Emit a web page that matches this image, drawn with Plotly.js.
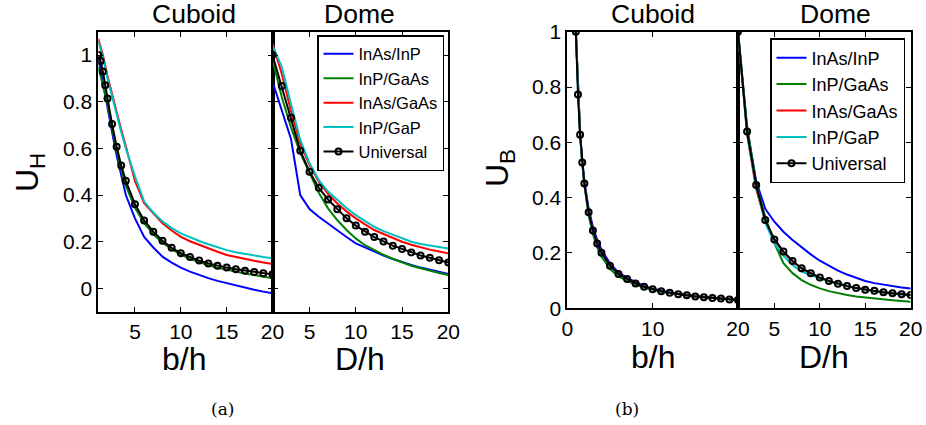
<!DOCTYPE html>
<html>
<head>
<meta charset="utf-8">
<script src="https://cdn.plot.ly/plotly-3.0.1.min.js"></script>
<style>html,body{margin:0;padding:0;background:#fff;}#chart{width:926px;height:425px;}</style>
</head>
<body>
<div id="chart"></div>
<script>
// ---------- data ----------
const seriesNames = ["InAs/InP", "InP/GaAs", "InAs/GaAs", "InP/GaP", "Universal"];

// Panel (a) Cuboid
const xCubA = [1,1.5,2,2.5,3,3.5,4,5,6,7,8,9,10,11,12,13,14,15,16,17,18,19,20];
const cubA_InAsInP  = [0.99,0.88,0.77,0.67,0.57,0.48,0.40,0.30,0.22,0.175,0.136,0.11,0.089,0.072,0.057,0.044,0.032,0.022,0.012,0.004,-0.006,-0.014,-0.021];
const cubA_InPGaAs  = [0.95,0.87,0.79,0.69,0.59,0.51,0.44,0.345,0.28,0.232,0.196,0.168,0.145,0.127,0.112,0.099,0.088,0.079,0.071,0.064,0.057,0.05,0.043];
const cubA_InAsGaAs = [1.07,1.0,0.91,0.83,0.75,0.68,0.61,0.46,0.365,0.32,0.279,0.248,0.221,0.202,0.186,0.172,0.157,0.143,0.134,0.126,0.118,0.111,0.104];
const cubA_InPGaP   = [1.06,0.99,0.90,0.82,0.74,0.67,0.60,0.48,0.372,0.325,0.287,0.258,0.236,0.218,0.203,0.189,0.176,0.164,0.155,0.147,0.140,0.134,0.129];
const xUnivCubA = [1,1.25,1.5,1.75,2,2.5,3,3.5,4,5,6,7,8,9,10,11,12,13,14,15,16,17,18,19,20];
const cubA_Univ = [1.0,0.974,0.929,0.871,0.814,0.704,0.607,0.527,0.461,0.361,0.291,0.243,0.204,0.174,0.151,0.134,0.119,0.107,0.097,0.089,0.082,0.076,0.070,0.065,0.060];

// Panel (a) Dome
const xDomA = [1,2,3,4,5,6,7,8,9,10,11,12,13,14,15,16,17,18,19,20];
const domA_InAsInP  = [0.886,0.76,0.64,0.40,0.34,0.307,0.277,0.25,0.22,0.193,0.175,0.157,0.141,0.126,0.112,0.1,0.089,0.079,0.07,0.062];
const domA_InPGaAs  = [0.98,0.82,0.69,0.58,0.495,0.41,0.343,0.293,0.25,0.214,0.185,0.163,0.144,0.127,0.111,0.097,0.086,0.075,0.066,0.057];
const domA_InAsGaAs = [1.05,0.92,0.76,0.62,0.53,0.457,0.405,0.364,0.33,0.30,0.274,0.25,0.233,0.216,0.2,0.187,0.176,0.166,0.158,0.15];
const domA_InPGaP   = [1.04,0.95,0.79,0.636,0.536,0.464,0.415,0.379,0.344,0.314,0.288,0.264,0.245,0.229,0.214,0.2,0.19,0.183,0.177,0.171];
const domA_Univ     = [1.0,0.867,0.731,0.59,0.50,0.431,0.381,0.339,0.30,0.269,0.243,0.22,0.201,0.183,0.169,0.154,0.141,0.131,0.121,0.111];

// Panel (b) Cuboid
const xCubB = [1,1.25,1.5,1.75,2,2.5,3,3.5,4,5,6,7,8,9,10,11,12,13,14,15,16,17,18,19,20];
const cubB_InAsInP  = [1.0,0.78,0.635,0.535,0.46,0.36,0.295,0.248,0.213,0.162,0.13,0.11,0.094,0.081,0.071,0.064,0.058,0.053,0.048,0.045,0.041,0.038,0.036,0.033,0.031];
const cubB_InPGaAs  = [1.0,0.78,0.63,0.525,0.445,0.335,0.268,0.22,0.187,0.142,0.115,0.099,0.085,0.075,0.067,0.06,0.055,0.05,0.046,0.043,0.04,0.037,0.034,0.032,0.030];
const cubB_InAsGaAs = [1.0,0.775,0.628,0.528,0.452,0.348,0.283,0.236,0.203,0.155,0.125,0.107,0.091,0.079,0.07,0.062,0.056,0.051,0.047,0.044,0.041,0.038,0.035,0.033,0.031];
const cubB_InPGaP   = [1.0,0.774,0.626,0.525,0.449,0.344,0.278,0.231,0.198,0.152,0.123,0.105,0.089,0.078,0.069,0.062,0.056,0.051,0.047,0.043,0.040,0.037,0.035,0.032,0.030];
const cubB_Univ     = [1.0,0.773,0.627,0.527,0.451,0.347,0.281,0.234,0.201,0.154,0.124,0.106,0.09,0.078,0.069,0.062,0.056,0.051,0.047,0.043,0.040,0.037,0.035,0.032,0.030];

// Panel (b) Dome
const xDomB = [1,2,3,4,5,6,7,8,9,10,11,12,13,14,15,16,17,18,19,20];
const domB_InAsInP  = [1.0,0.65,0.46,0.36,0.313,0.277,0.247,0.22,0.195,0.172,0.153,0.136,0.122,0.11,0.099,0.091,0.085,0.079,0.075,0.072];
const domB_InPGaAs  = [1.0,0.66,0.45,0.33,0.235,0.163,0.127,0.102,0.085,0.072,0.062,0.054,0.048,0.043,0.039,0.035,0.032,0.029,0.026,0.024];
const domB_InAsGaAs = [1.0,0.63,0.43,0.315,0.25,0.203,0.17,0.144,0.126,0.11,0.098,0.088,0.08,0.073,0.067,0.062,0.057,0.053,0.05,0.048];
const domB_InPGaP   = [1.0,0.63,0.44,0.31,0.235,0.19,0.157,0.133,0.12,0.108,0.097,0.088,0.08,0.073,0.067,0.062,0.057,0.053,0.05,0.048];
const domB_Univ     = [1.0,0.639,0.446,0.319,0.249,0.205,0.171,0.145,0.127,0.111,0.099,0.089,0.081,0.073,0.067,0.063,0.058,0.054,0.051,0.048];

const panelTitles = ["Cuboid", "Dome", "Cuboid", "Dome"];
const xLabels = ["b/h", "D/h", "b/h", "D/h"];
const yLabels = ["U<sub>H</sub>", "U<sub>B</sub>"];
const captions = ["(a)", "(b)"];
const yTicksA = [0, 0.2, 0.4, 0.6, 0.8, 1];
const yTicksB = [0, 0.2, 0.4, 0.6, 0.8, 1];
const xTicksCubA = [5, 10, 15, 20];
const xTicksDom = [5, 10, 15, 20];
const xTicksCubB = [0, 10, 20];

// ---------- styling ----------
const FONT = "Liberation Sans";
const colors = ["#0000FF", "#008000", "#FF0000", "#00BFBF", "#000000"];
const W = 926, H = 425;
const px = v => v / W;
const py = v => 1 - v / H;

function lineTrace(x, y, i, xa, ya, legendId, show) {
  const t = {
    x: x, y: y, type: "scatter", mode: i === 4 ? "lines+markers" : "lines",
    name: seriesNames[i], xaxis: xa, yaxis: ya,
    line: {color: colors[i], width: 2},
    showlegend: show, legend: legendId
  };
  if (i === 4) t.marker = {symbol: "circle-open", size: 6, color: "#000", line: {width: 2, color: "#000"}};
  return t;
}

const traces = [];
const cubA = [cubA_InAsInP, cubA_InPGaAs, cubA_InAsGaAs, cubA_InPGaP];
const domA = [domA_InAsInP, domA_InPGaAs, domA_InAsGaAs, domA_InPGaP, domA_Univ];
const cubB = [cubB_InAsInP, cubB_InPGaAs, cubB_InAsGaAs, cubB_InPGaP, cubB_Univ];
const domB = [domB_InAsInP, domB_InPGaAs, domB_InAsGaAs, domB_InPGaP, domB_Univ];
for (let i = 0; i < 4; i++) traces.push(lineTrace(xCubA, cubA[i], i, "x", "y", "legend", false));
traces.push(lineTrace(xUnivCubA, cubA_Univ, 4, "x", "y", "legend", false));
for (let i = 0; i < 5; i++) traces.push(lineTrace(xDomA, domA[i], i, "x2", "y2", "legend", true));
for (let i = 0; i < 5; i++) traces.push(lineTrace(xCubB, cubB[i], i, "x3", "y3", "legend2", false));
for (let i = 0; i < 5; i++) traces.push(lineTrace(xDomB, domB[i], i, "x4", "y4", "legend2", true));

const tickFont = {family: FONT, size: 21, color: "#000"};
function axis(domain, range, tickvals, showLabels, anchor) {
  return {
    domain: domain, range: range, anchor: anchor,
    tickmode: "array", tickvals: tickvals, showticklabels: showLabels,
    ticks: "inside", ticklen: 5, tickwidth: 1, tickcolor: "#000",
    showline: true, linecolor: "#000", linewidth: 2, mirror: "ticks",
    showgrid: false, zeroline: false, tickfont: tickFont, fixedrange: true
  };
}

const yDomA = [py(311.7), py(31.7)];
const yDomB = [py(308.3), py(31.7)];

const annFont = (s) => ({family: FONT, size: s, color: "#000"});
const ann = (text, x, y, size, angle, yanchor) => ({
  text: text, x: px(x), y: py(y), xref: "paper", yref: "paper",
  xanchor: "center", yanchor: yanchor || "middle", showarrow: false, font: annFont(size), textangle: angle || 0,
  borderpad: 0
});

const annotations = [
  ann(panelTitles[0], 194, -2, 26.5, 0, "top"), ann(panelTitles[1], 359, -2, 26.5, 0, "top"),
  ann(panelTitles[2], 652.5, -2, 26.5, 0, "top"), ann(panelTitles[3], 835, -2, 26.5, 0, "top"),
  ann(xLabels[0], 184, 359, 32), ann(xLabels[1], 360, 359, 32),
  ann(xLabels[2], 652.5, 357, 32), ann(xLabels[3], 824, 357, 32),
  ann(yLabels[0], 29, 172, 32, -90), ann(yLabels[1], 499, 168, 32, -90),
  {text: captions[0], x: px(222), y: py(409), xref: "paper", yref: "paper", showarrow: false,
   xanchor: "center", yanchor: "middle", font: {family: "DejaVu Serif", size: 17, color: "#000"}},
  {text: captions[1], x: px(627), y: py(409), xref: "paper", yref: "paper", showarrow: false,
   xanchor: "center", yanchor: "middle", font: {family: "DejaVu Serif", size: 17, color: "#000"}}
];

const legendFont = (s) => ({family: FONT, size: s, color: "#000"});
const layout = {
  width: W, height: H, margin: {l: 0, r: 0, t: 0, b: 0},
  paper_bgcolor: "#fff", plot_bgcolor: "#fff",
  font: {family: FONT, color: "#000"},
  xaxis: axis([px(98.3), px(272.5)], [1, 20], xTicksCubA, true, "y"),
  yaxis: axis(yDomA, [-0.1, 1.1], yTicksA, true, "x"),
  xaxis2: axis([px(272.5), px(448.3)], [1, 20], xTicksDom, true, "y2"),
  yaxis2: axis(yDomA, [-0.1, 1.1], yTicksA, false, "x2"),
  xaxis3: axis([px(567.3), px(738)], [0, 20], xTicksCubB, true, "y3"),
  yaxis3: axis(yDomB, [0, 1], yTicksB, true, "x3"),
  xaxis4: axis([px(738), px(910.7)], [1, 20], xTicksDom, true, "y4"),
  yaxis4: axis(yDomB, [0, 1], yTicksB, false, "x4"),
  legend: {x: px(444), y: py(35), xanchor: "right", yanchor: "top", bgcolor: "#fff",
           bordercolor: "#000", borderwidth: 1.5, font: legendFont(16.5), tracegroupgap: 0},
  legend2: {x: px(905), y: py(38), xanchor: "right", yanchor: "top", bgcolor: "#fff",
           bordercolor: "#000", borderwidth: 1.5, font: legendFont(18), tracegroupgap: 0},
  annotations: annotations,
  showlegend: true
};

Plotly.newPlot("chart", traces, layout, {displayModeBar: false, staticPlot: true});
</script>
</body>
</html>
